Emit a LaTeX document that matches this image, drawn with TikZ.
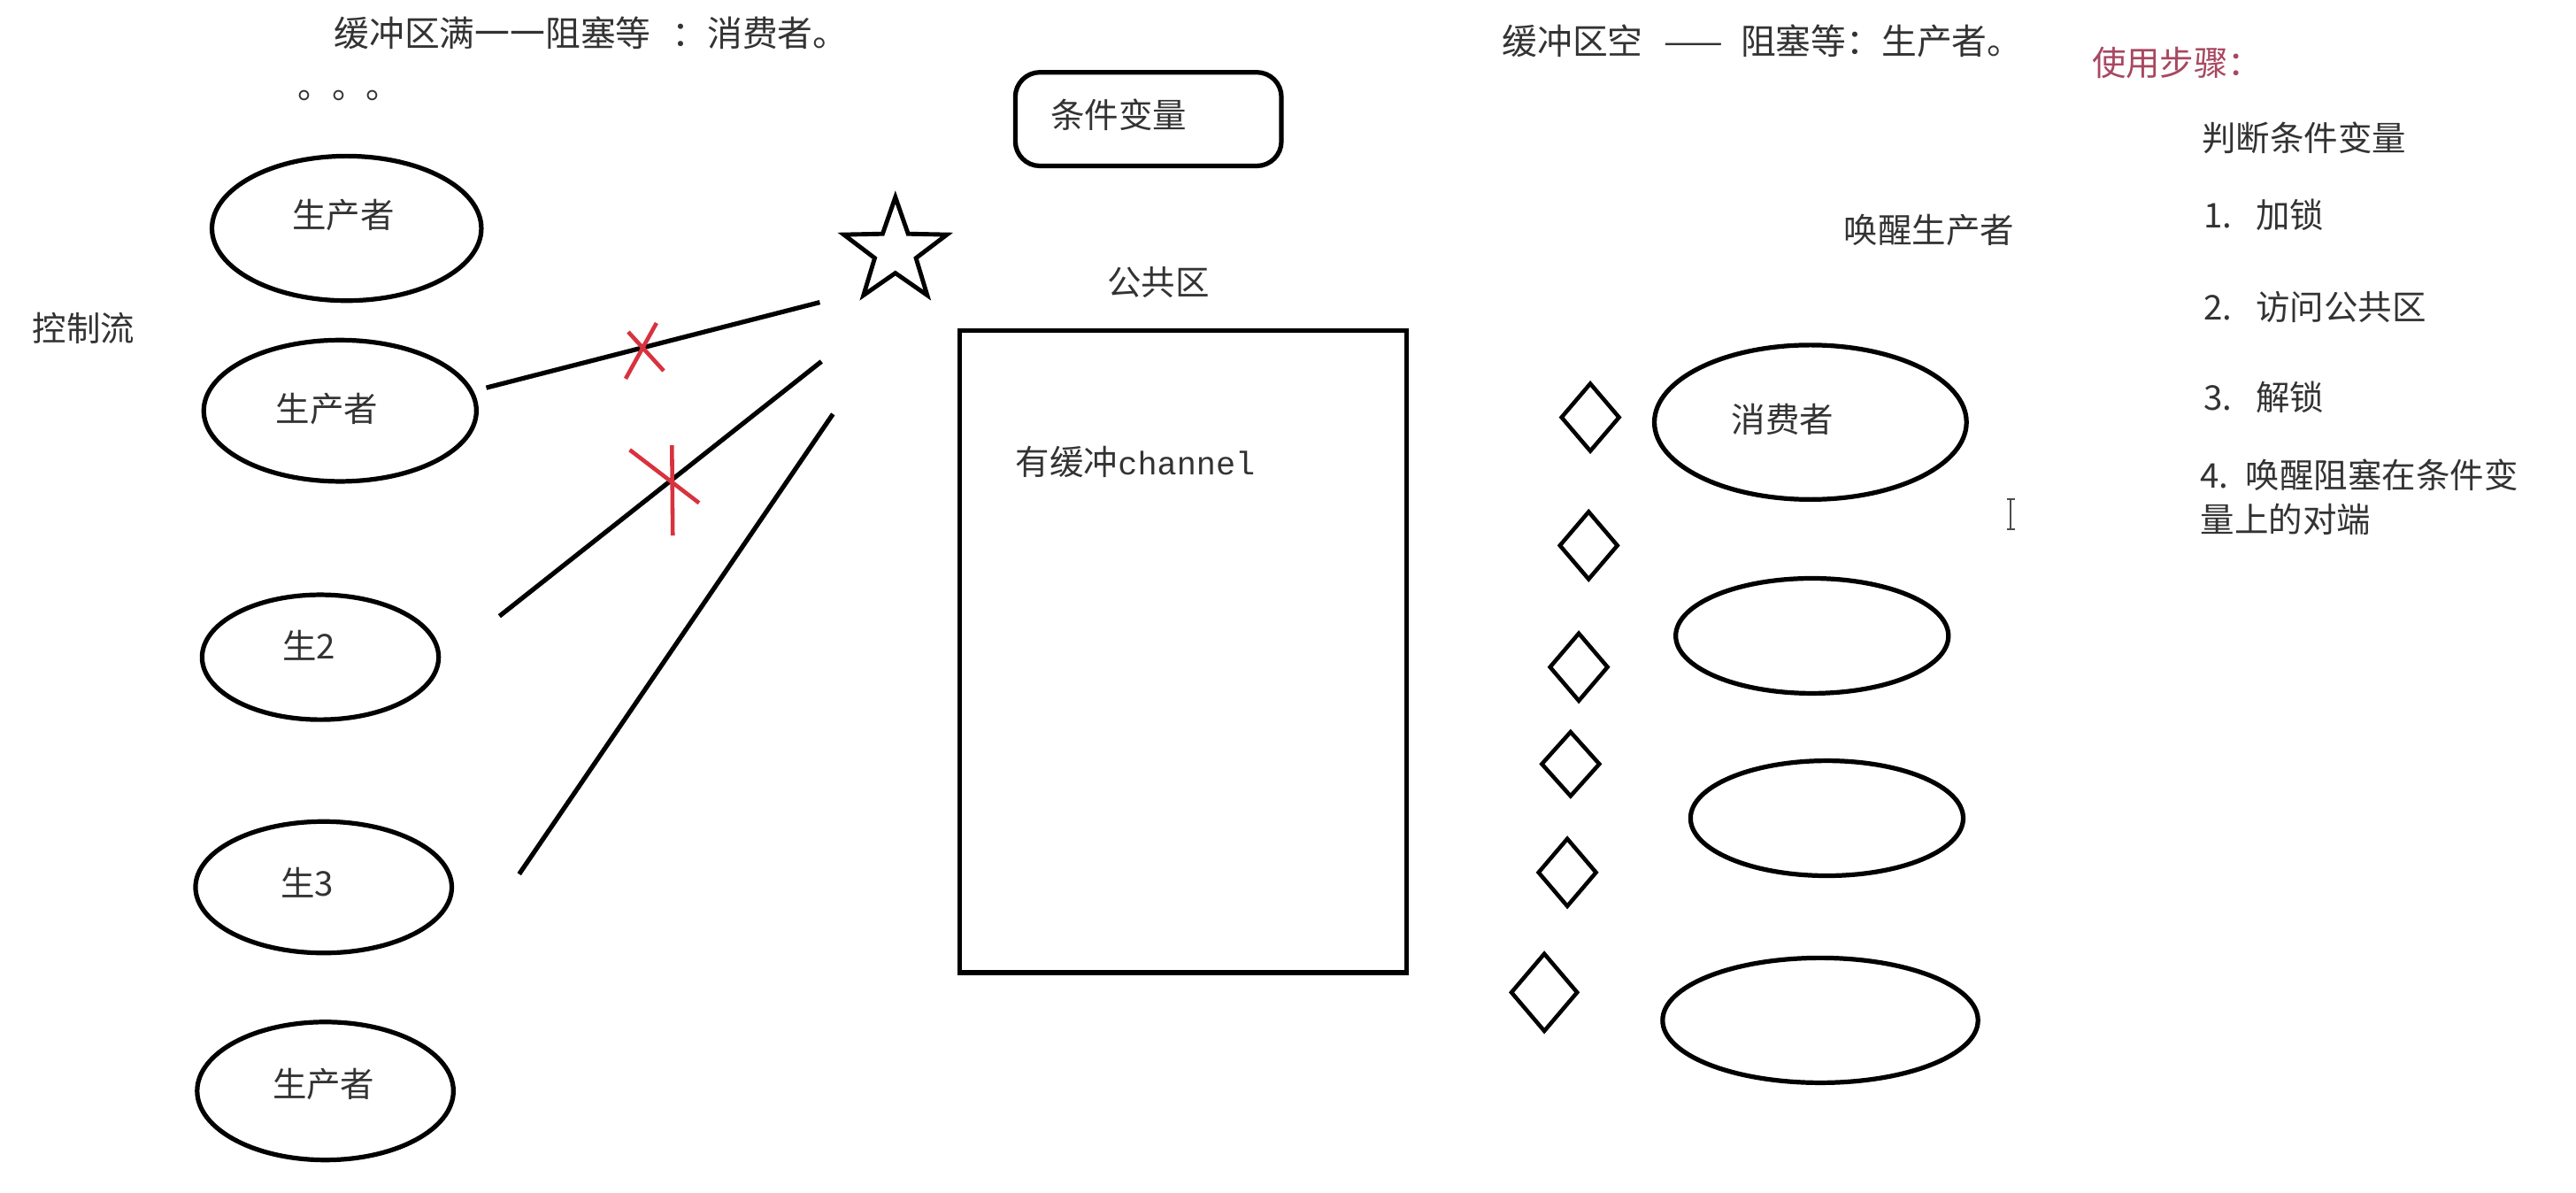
\documentclass[tikz,border=0pt]{standalone}
\usepackage{fontspec}
\setmainfont{Noto Sans CJK SC}
\newfontfamily\chanfont{Liberation Mono}
\usetikzlibrary{shapes.geometric}
\definecolor{txt}{HTML}{333333}
\definecolor{xred}{HTML}{D8323F}
\definecolor{stepred}{HTML}{A84860}
\begin{document}
\begin{tikzpicture}[x=0.02cm,y=-0.02cm,
  lbl/.style={font=\fontsize{11.8}{14}\selectfont, text=txt, inner sep=0pt},
  ttl/.style={font=\fontsize{12.2}{14}\selectfont, text=txt, inner sep=0pt},
  oval/.style={draw, ellipse, line width=1.6pt, inner sep=0pt},
  diam/.style={draw, diamond, line width=1.4pt, inner sep=0pt, minimum width=0.72cm, minimum height=0.84cm},
  wire/.style={line width=1.6pt, black},
  redx/.style={draw=xred, line width=1.4pt},
  box/.style={draw, line width=1.6pt, inner sep=0pt}]
\useasboundingbox (0,0) rectangle (1568,726);
\fill[white] (0,0) rectangle (1568,726);

% titles
\node[ttl, anchor=west] (t1) at (203,20) {缓冲区满一一阻塞等\hspace{0.6em}：消费者。};
\node[lbl, anchor=west] (dots) at (181,58) {。。。};
\node[ttl, anchor=west] (t2) at (914,25) {缓冲区空\hspace{0.6em}——\hspace{0.5em}阻塞等：生产者。};
\node[lbl, anchor=west, text=stepred] (steps) at (1273,38) {使用步骤：};
\node[lbl] (ctrl) at (51,200) {控制流};

% producers
\node[oval, minimum width=3.28cm, minimum height=1.76cm] (e1) at (211,139) {};
\node[oval, minimum width=3.32cm, minimum height=1.72cm] (e2) at (207,250) {};
\node[oval, minimum width=2.88cm, minimum height=1.52cm] (e3) at (195,400) {};
\node[oval, minimum width=3.12cm, minimum height=1.60cm] (e4) at (197,540) {};
\node[oval, minimum width=3.12cm, minimum height=1.68cm] (e5) at (198,664) {};
\node[lbl] (e1t) at (209,131) {生产者};
\node[lbl] (e2t) at (199,249) {生产者};
\node[lbl] (e3t) at (188,393) {生2};
\node[lbl] (e4t) at (187,537) {生3};
\node[lbl] (e5t) at (197,660) {生产者};

% condition variable and star
\node[box, rounded corners=0.3cm, minimum width=3.24cm, minimum height=1.14cm] (cv) at (699,72.5) {};
\node[lbl] (cvt) at (681,70) {条件变量};
\node[draw, star, star points=5, star point ratio=2.5, minimum size=1.32cm, line width=1.5pt, inner sep=0pt] (star) at (545,153) {};

% public area
\node[lbl] (pubt) at (705,172) {公共区};
\node[box, minimum width=5.44cm, minimum height=7.82cm] (pub) at (720,396.5) {};
\node[lbl, anchor=west] (chan) at (618,281) {有缓冲{\chanfont\fontsize{11.3}{14}\selectfont channel}};

% connectors toward the star
\coordinate (a1) at (296,236); \coordinate (b1) at (499,184);
\coordinate (a2) at (304,375); \coordinate (b2) at (500,220);
\coordinate (a3) at (316,532); \coordinate (b3) at (507,252);
\draw[wire] (a1) -- (b1);
\draw[wire] (a2) -- (b2);
\draw[wire] (a3) -- (b3);

% red crosses
\coordinate (x1a) at (399.6,196.6); \coordinate (x1b) at (380.8,230.5);
\coordinate (x1c) at (382.4,202); \coordinate (x1d) at (404,225.7);
\draw[redx] (x1a) -- (x1b);
\draw[redx] (x1c) -- (x1d);
\coordinate (x2a) at (409,271); \coordinate (x2b) at (409.5,326);
\coordinate (x2c) at (383.3,273.8); \coordinate (x2d) at (425.5,306.1);
\draw[redx] (x2a) -- (x2b);
\draw[redx] (x2c) -- (x2d);

% consumers
\node[oval, minimum width=3.80cm, minimum height=1.88cm] (c1) at (1102,257) {};
\node[oval, minimum width=3.32cm, minimum height=1.40cm] (c2) at (1103,387) {};
\node[oval, minimum width=3.32cm, minimum height=1.40cm] (c3) at (1112,498) {};
\node[oval, minimum width=3.84cm, minimum height=1.52cm] (c4) at (1108,621) {};
\node[lbl] (c1t) at (1085,255) {消费者};

% diamonds
\node[diam] (d1) at (968,254) {};
\node[diam] (d2) at (967,332) {};
\node[diam] (d3) at (961,406) {};
\node[diam, minimum height=0.80cm] (d4) at (956,465) {};
\node[diam] (d5) at (954,531) {};
\node[diam, minimum width=0.82cm, minimum height=0.96cm] (d6) at (940,604) {};

% right texts
\node[lbl, anchor=west] (wake) at (1122,140) {唤醒生产者};
\node[lbl, anchor=west] (s0) at (1340,84) {判断条件变量};
\node[lbl, anchor=west] (s1) at (1341,131) {1.\hspace{0.7em}加锁};
\node[lbl, anchor=west] (s2) at (1341,187) {2.\hspace{0.7em}访问公共区};
\node[lbl, anchor=west] (s3) at (1341,242) {3.\hspace{0.7em}解锁};
\node[lbl, anchor=west] (s4) at (1339,289) {4.\hspace{0.5em}唤醒阻塞在条件变};
\node[lbl, anchor=west] (s4b) at (1339,316) {量上的对端};

% text cursor
\coordinate (ib1) at (1224,304); \coordinate (ib2) at (1224,322);
\draw[black!70, line width=0.6pt] (ib1) -- (ib2);
\draw[black!70, line width=0.6pt] ([xshift=-0.05cm]ib1) -- ([xshift=0.05cm]ib1);
\draw[black!70, line width=0.6pt] ([xshift=-0.05cm]ib2) -- ([xshift=0.05cm]ib2);
\end{tikzpicture}
\end{document}
